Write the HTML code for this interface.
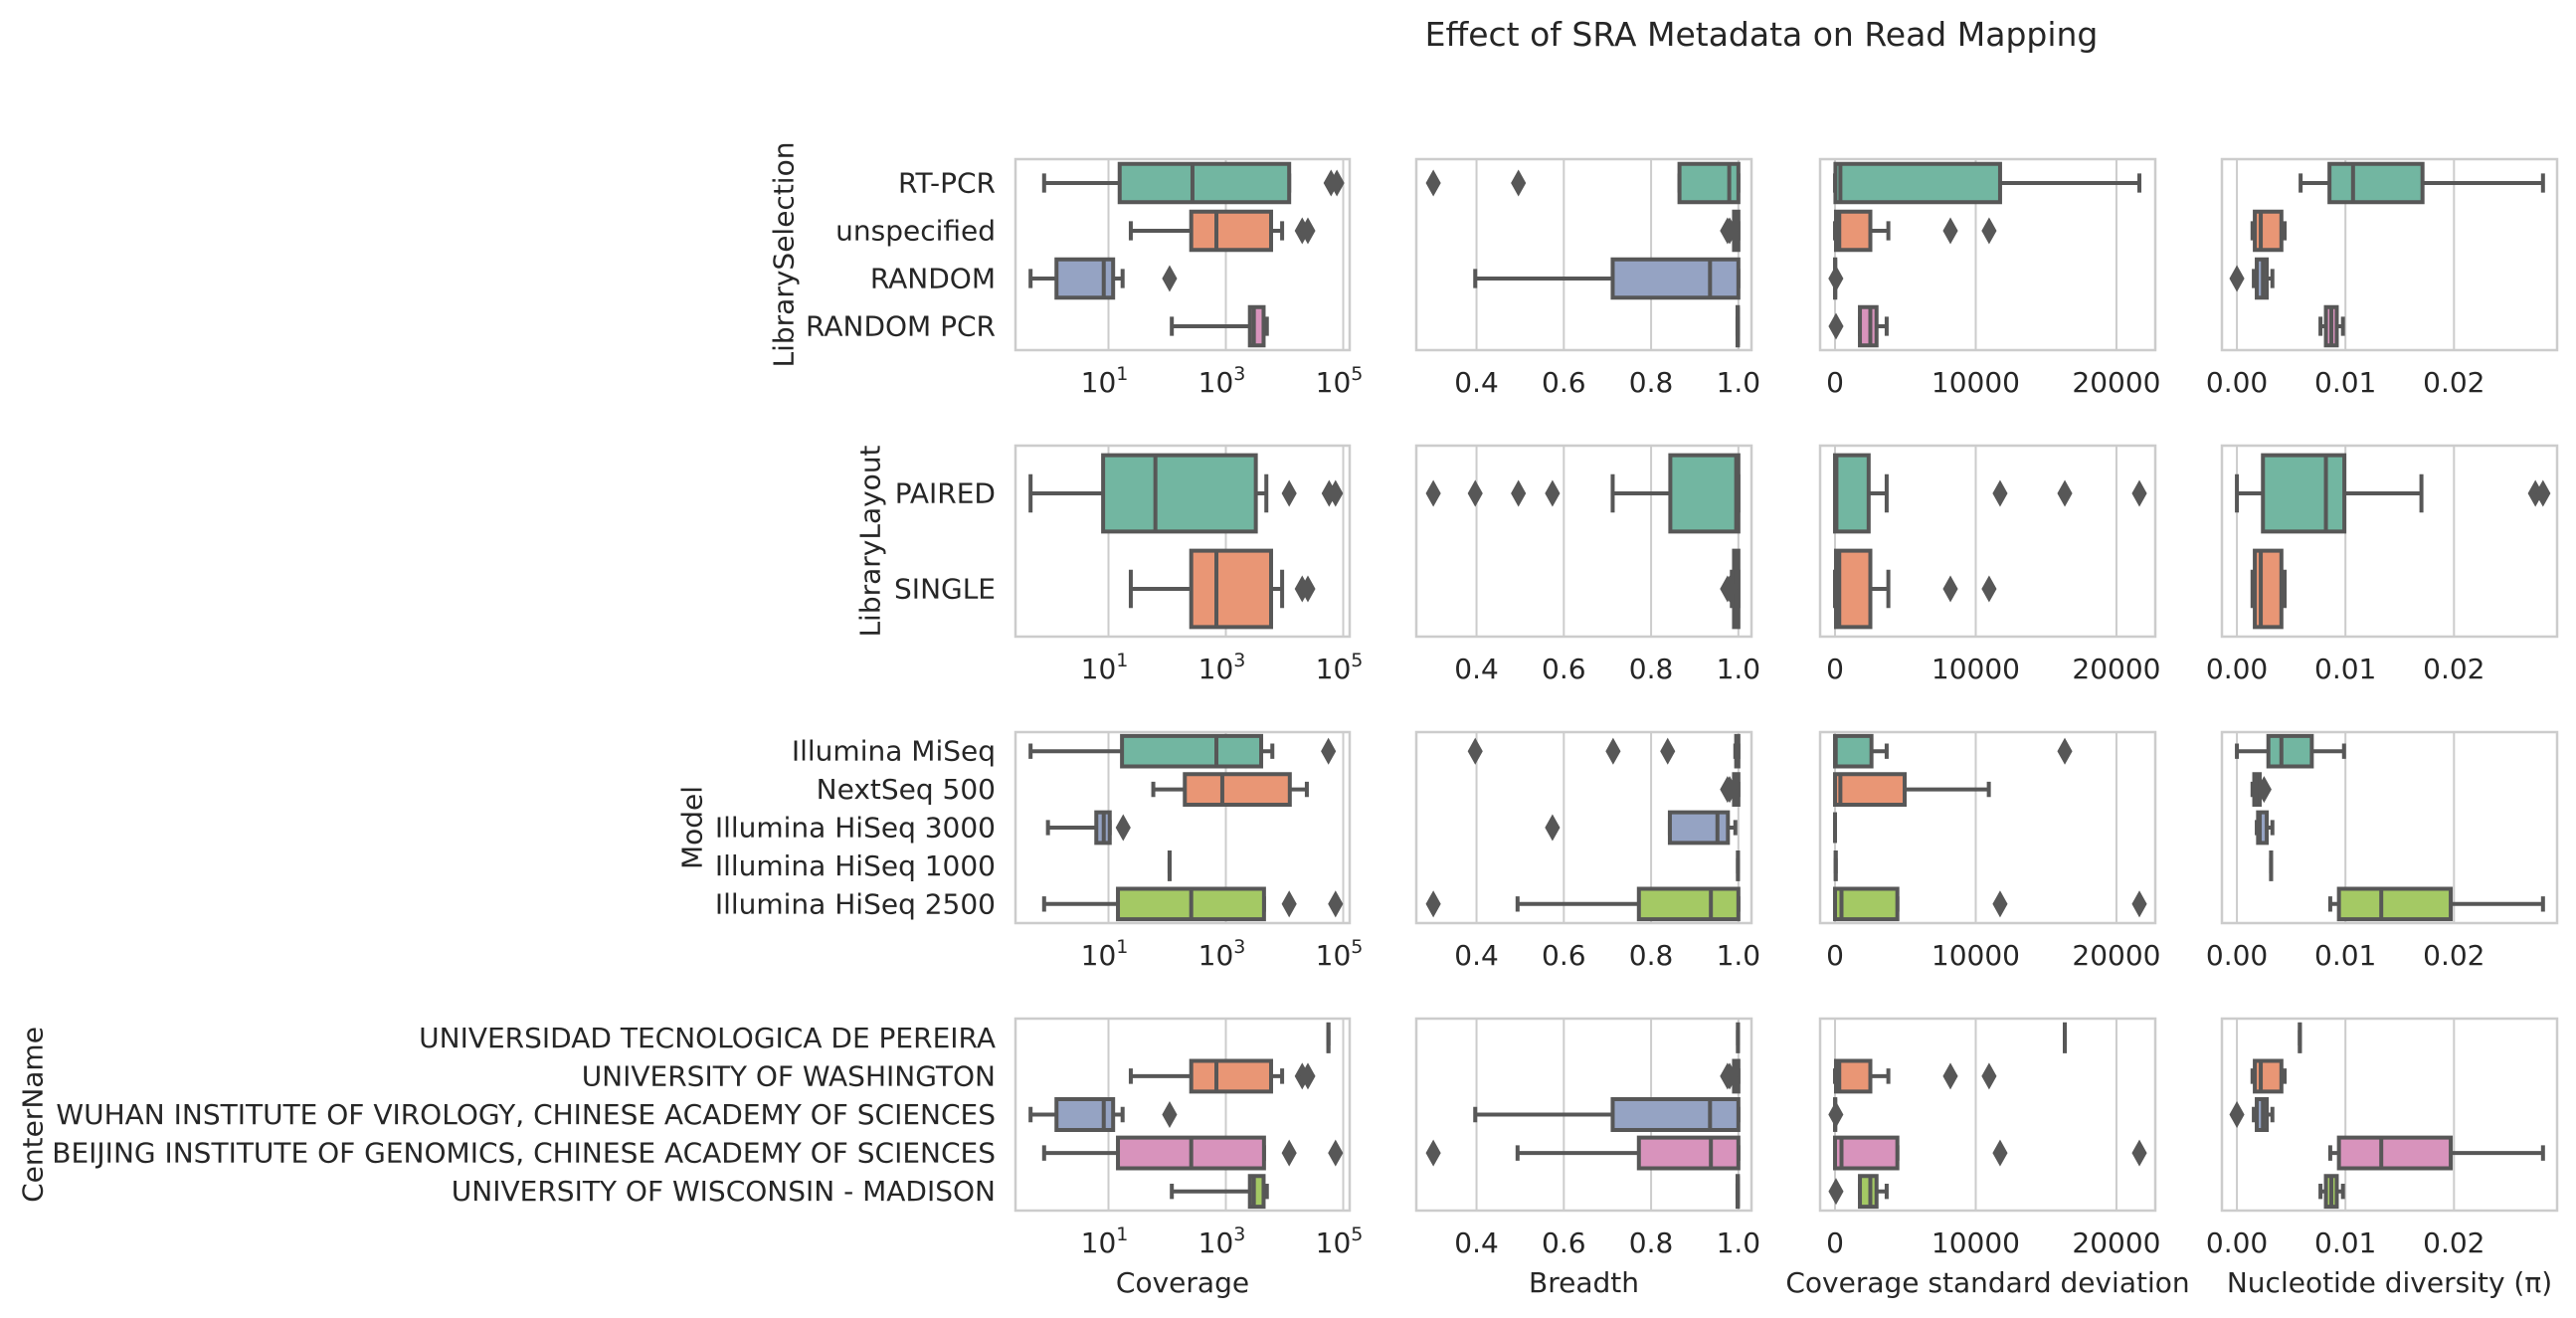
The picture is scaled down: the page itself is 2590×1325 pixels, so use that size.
<!DOCTYPE html>
<html><head><meta charset="utf-8"><title>Effect of SRA Metadata on Read Mapping</title>
<style>
html,body{margin:0;padding:0;background:#fff;}
svg{display:block;font-family:"DejaVu Sans","Liberation Sans",sans-serif;}
</style></head>
<body>
<svg id="fig" xmlns="http://www.w3.org/2000/svg" width="2590" height="1325" viewBox="0 0 2590 1325">
<rect x="0" y="0" width="2590" height="1325" fill="#fff"/>
<text x="1771" y="46" font-size="33" text-anchor="middle" fill="#262626">Effect of SRA Metadata on Read Mapping</text>
</svg>
<script>
// ---------- data ----------
const selCats = ["RT-PCR","unspecified","RANDOM","RANDOM PCR"];
const selCoverage = [[0.8,15.5,270,12000,12000],[24,257,690,5900,9100],[0.47,1.3,8.3,12,17.4],[120,2570,3000,4400,5000]];
const selCoverageOut = [[62000,78000],[20000,25000],[110],[]];
const selBreadth = [[0.865,0.865,0.979,1.0,1.0],[0.985,0.99,0.995,1.0,1.0],[0.397,0.712,0.935,1.0,1.0],[0.998,0.998,0.999,0.999,0.999]];
const selBreadthOut = [[0.301,0.496],[0.975,0.98],[],[]];
const selSd = [[0,30,380,11730,21630],[0,70,300,2510,3790],[0,0,10,20,30],[1770,1770,2510,2950,3670]];
const selSdOut = [[],[8200,10950],[60],[70]];
const selPi = [[0.00587,0.00853,0.0107,0.0171,0.0282],[0.00144,0.00165,0.0022,0.0041,0.0044],[0.00156,0.00183,0.0024,0.00275,0.00327],[0.0077,0.0082,0.0087,0.0092,0.00977]];
const selPiOut = [[],[],[0.0],[]];

const layCats = ["PAIRED","SINGLE"];
const layCoverage = [[0.47,8.1,63,3240,4900],[24,257,690,5900,9100]];
const layCoverageOut = [[12000,57500,74000],[20000,25000]];
const layBreadth = [[0.712,0.844,0.995,1.0,1.0],[0.985,0.99,0.995,1.0,1.0]];
const layBreadthOut = [[0.301,0.397,0.496,0.574],[0.975,0.98]];
const laySd = [[0,0,100,2390,3670],[0,70,300,2510,3790]];
const laySdOut = [[11730,16330,21630],[8200,10950]];
const layPi = [[0,0.0024,0.0082,0.0099,0.0170],[0.00144,0.00165,0.0022,0.0041,0.0044]];
const layPiOut = [[0.0275,0.0282],[]];

const modCats = ["Illumina MiSeq","NextSeq 500","Illumina HiSeq 3000","Illumina HiSeq 1000","Illumina HiSeq 2500"];
const modCoverage = [[0.47,17,690,4000,6200],[58,200,870,12300,24000],[0.93,6.2,8.3,10.5,10.5],[110,110,110,110,110],[0.8,14.5,257,4470,4470]];
const modCoverageOut = [[56000],[],[17.8],[],[12000,74000]];
const modBreadth = [[0.993,0.995,0.998,1.0,1.0],[0.985,0.99,0.995,1.0,1.0],[0.843,0.843,0.952,0.976,0.993],[0.999,0.999,0.999,0.999,0.999],[0.494,0.772,0.937,1.0,1.0]];
const modBreadthOut = [[0.397,0.713,0.838],[0.975,0.98],[0.574],[],[0.301]];
const modSd = [[0,0,50,2590,3670],[0,0,380,4950,10930],[0,0,0,0,0],[50,50,50,50,50],[0,0,460,4430,4430]];
const modSdOut = [[16330],[],[],[],[11730,21630]];
const modPi = [[0,0.0029,0.0041,0.0069,0.00987],[0.00144,0.0016,0.0018,0.0021,0.0022],[0.00183,0.00195,0.0021,0.00275,0.00327],[0.00315,0.00315,0.00315,0.00315,0.00315],[0.0086,0.0094,0.0133,0.0197,0.0282]];
const modPiOut = [[],[0.0025],[],[],[]];

const cenCats = ["UNIVERSIDAD TECNOLOGICA DE PEREIRA","UNIVERSITY OF WASHINGTON","WUHAN INSTITUTE OF VIROLOGY, CHINESE ACADEMY OF SCIENCES","BEIJING INSTITUTE OF GENOMICS, CHINESE ACADEMY OF SCIENCES","UNIVERSITY OF WISCONSIN - MADISON"];
const cenCoverage = [[56000,56000,56000,56000,56000],[24,257,690,5900,9100],[0.47,1.3,8.3,12,17.4],[0.8,14.5,257,4470,4470],[120,2570,3000,4400,5000]];
const cenCoverageOut = [[],[20000,25000],[110],[12000,74000],[]];
const cenBreadth = [[0.999,0.999,0.999,0.999,0.999],[0.985,0.99,0.995,1.0,1.0],[0.397,0.712,0.935,1.0,1.0],[0.494,0.772,0.937,1.0,1.0],[0.998,0.998,0.999,0.999,0.999]];
const cenBreadthOut = [[],[0.975,0.98],[],[0.301],[]];
const cenSd = [[16330,16330,16330,16330,16330],[0,70,300,2510,3790],[0,0,10,20,30],[0,0,460,4430,4430],[1770,1770,2510,2950,3670]];
const cenSdOut = [[],[8200,10950],[60],[11730,21630],[70]];
const cenPi = [[0.0058,0.0058,0.0058,0.0058,0.0058],[0.00144,0.00165,0.0022,0.0041,0.0044],[0.00156,0.00183,0.0024,0.00275,0.00327],[0.0086,0.0094,0.0133,0.0197,0.0282],[0.0077,0.0082,0.0087,0.0092,0.00977]];
const cenPiOut = [[],[],[0.0],[],[]];

const rowTitles = ["LibrarySelection","LibraryLayout","Model","CenterName"];
const colTitles = ["Coverage","Breadth","Coverage standard deviation","Nucleotide diversity (π)"];
const coverageTicks = [1,3,5];
const breadthTicks = [0.4,0.6,0.8,1.0];
const breadthTickLabels = ["0.4","0.6","0.8","1.0"];
const sdTicks = [0,10000,20000];
const sdTickLabels = ["0","10000","20000"];
const piTicks = [0,0.01,0.02];
const piTickLabels = ["0.00","0.01","0.02"];

// ---------- layout ----------
const NS = "http://www.w3.org/2000/svg";
const svg = document.getElementById('fig');
const colX = [[1021,1357],[1424,1761],[1830,2167],[2234,2571]];
const rowY = [[160,352],[448,640],[736,928],[1024,1217]];
const domains = [[-0.585,5.11],[0.262,1.03],[-1060,22760],[-0.00138,0.0295]];
const palette = ['#72b6a1','#e99675','#95a3c3','#d893bc','#a4c964'];
const LINE = '#575757';
const FS = 28;
const rowYlabelX = [788,875,696,33];

function mk(tag, attrs){ const e=document.createElementNS(NS,tag); for(const k in attrs) e.setAttribute(k,attrs[k]); svg.appendChild(e); return e; }
function xScale(c, v){
  const d = domains[c];
  const val = c===0 ? Math.log10(Math.max(v,1e-9)) : v;
  return colX[c][0] + (val-d[0])/(d[1]-d[0])*(colX[c][1]-colX[c][0]);
}

const groups = [
  {cats:selCats, stats:[selCoverage,selBreadth,selSd,selPi], outs:[selCoverageOut,selBreadthOut,selSdOut,selPiOut]},
  {cats:layCats, stats:[layCoverage,layBreadth,laySd,layPi], outs:[layCoverageOut,layBreadthOut,laySdOut,layPiOut]},
  {cats:modCats, stats:[modCoverage,modBreadth,modSd,modPi], outs:[modCoverageOut,modBreadthOut,modSdOut,modPiOut]},
  {cats:cenCats, stats:[cenCoverage,cenBreadth,cenSd,cenPi], outs:[cenCoverageOut,cenBreadthOut,cenSdOut,cenPiOut]}
];

groups.forEach((g, r) => {
  const [y0,y1] = rowY[r];
  const n = g.cats.length, band = (y1-y0)/n, bh = band*0.8;
  const yc = (y0+y1)/2;
  const rt = mk('text',{x:rowYlabelX[r], y:yc, 'font-size':FS, fill:'#262626', 'text-anchor':'middle', transform:`rotate(-90 ${rowYlabelX[r]} ${yc})`, 'dominant-baseline':'central'});
  
  
  rt.textContent = rowTitles[r];
  g.cats.forEach((c,i)=>{
    const t = mk('text',{x:1001, y:y0+(i+0.5)*band, 'font-size':FS, fill:'#262626', 'text-anchor':'end', 'dominant-baseline':'central'});
    
    
    t.textContent = c;
  });
  for(let c=0;c<4;c++){
    const [x0,x1] = colX[c];
    const ticks = [coverageTicks,breadthTicks,sdTicks,piTicks][c];
    ticks.forEach((tv,ti)=>{
      const xv = c===0 ? xScale(0, Math.pow(10,tv)) : xScale(c,tv);
      const gl = mk('line',{x1:xv,x2:xv,y1:y0,y2:y1,stroke:'#cccccc','stroke-width':2});
      
      
      const tl = mk('text',{x:xv, y:y1+42, 'font-size':FS, fill:'#262626', 'text-anchor':'middle'});
      
      
      if(c===0){
        tl.textContent = '10';
        const sup = document.createElementNS(NS,'tspan');
        sup.setAttribute('dy','-12');
        sup.setAttribute('font-size','19');
        sup.textContent = String(tv);
        tl.appendChild(sup);
        tl.setAttribute('x', xv-4);
      } else {
        tl.textContent = [null,breadthTickLabels,sdTickLabels,piTickLabels][c][ti];
      }
    });
    const frame = mk('rect',{x:x0,y:y0,width:x1-x0,height:y1-y0,fill:'none',stroke:'#cccccc','stroke-width':2.5});
    
    
    g.stats[c].forEach((s,i)=>{
      const cy = y0+(i+0.5)*band;
      const [lo,q1,md,q3,hi] = s.map(v=>xScale(c,v));
      const wl = mk('path',{d:`M${lo},${cy}H${q1}M${q3},${cy}H${hi}M${lo},${cy-bh/4}V${cy+bh/4}M${hi},${cy-bh/4}V${cy+bh/4}`,stroke:LINE,'stroke-width':4,fill:'none'});
      
      
      const bx = mk('path',{d:`M${q1},${cy-bh/2}H${q3}V${cy+bh/2}H${q1}Z`,fill:palette[i],stroke:LINE,'stroke-width':4});
      
      
      const ml = mk('line',{x1:md,x2:md,y1:cy-bh/2,y2:cy+bh/2,stroke:LINE,'stroke-width':4});
      
      
      g.outs[c][i].forEach(ov=>{
        const ox = xScale(c,ov);
        const dm = mk('path',{d:`M${ox},${cy-12.5}L${ox+7},${cy}L${ox},${cy+12.5}L${ox-7},${cy}Z`,fill:LINE,stroke:LINE,'stroke-width':1});
        
        
      });
    });
    if(r===3){
      const ct = mk('text',{x:(x0+x1)/2, y:1299, 'font-size':FS, fill:'#262626', 'text-anchor':'middle'});
      
      
      ct.textContent = colTitles[c];
    }
  }
});
</script>
</body></html>
